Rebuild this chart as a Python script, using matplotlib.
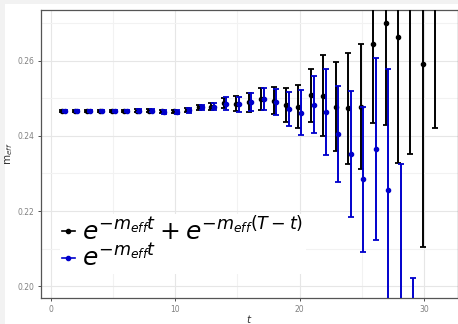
import numpy as np
import matplotlib
matplotlib.use("Agg")
import matplotlib.pyplot as plt
from matplotlib.lines import Line2D
from matplotlib.patches import Rectangle

# ---- data ----
t_black = list(range(1, 32))
black_vals = [0.2467, 0.2467, 0.2467, 0.2467, 0.2467, 0.2467, 0.2467, 0.2467,
              0.2465, 0.2465, 0.2469, 0.2476, 0.2478, 0.2487, 0.2485, 0.2489,
              0.2499, 0.2493, 0.2481, 0.2478, 0.2508, 0.2507, 0.2478, 0.2473,
              0.2478, 0.2643, 0.2700, 0.2662, 0.2760, 0.2592, 0.2900]
black_err = [0.0003, 0.0003, 0.0003, 0.0003, 0.0003, 0.0003, 0.0004, 0.0004,
             0.0005, 0.0005, 0.0006, 0.0007, 0.0009, 0.0013, 0.0020, 0.0025,
             0.0029, 0.0036, 0.0045, 0.0058, 0.0071, 0.0108, 0.0118, 0.0148,
             0.0165, 0.0208, 0.0271, 0.0335, 0.0409, 0.0487, 0.0478]

t_blue = list(range(1, 30))
blue_vals = [0.2467, 0.2467, 0.2467, 0.2467, 0.2467, 0.2467, 0.2467, 0.2467,
             0.2464, 0.2464, 0.2468, 0.2476, 0.2478, 0.2486, 0.2484, 0.2490,
             0.2497, 0.2490, 0.2471, 0.2461, 0.2483, 0.2463, 0.2405, 0.2352,
             0.2285, 0.2365, 0.2256, 0.1900, 0.1500]
blue_err = [0.0003, 0.0003, 0.0003, 0.0003, 0.0003, 0.0003, 0.0004, 0.0004,
            0.0005, 0.0005, 0.0006, 0.0007, 0.0009, 0.0016, 0.0020, 0.0025,
            0.0029, 0.0035, 0.0045, 0.0060, 0.0076, 0.0115, 0.0128, 0.0167,
            0.0193, 0.0242, 0.0323, 0.0425, 0.0522]

label_black = r'$e^{-m_{eff}t} + e^{-m_{eff}(T-t)}$'
label_blue = r'$e^{-m_{eff}t}$'
x_ticks = [0, 10, 20, 30]
y_ticks = [0.20, 0.22, 0.24, 0.26]
y_ticklabels = ["0.20", "0.22", "0.24", "0.26"]

# ---- style ----
dodge_black = -0.09
dodge_blue = 0.12
blue_col = '#0000cc'

fig = plt.figure(figsize=(4.58, 3.24), dpi=100)
fig.patch.set_facecolor('white')
# light gray strips on left and top edge
fig.patches.append(Rectangle((0, 0), 5/458, 1, transform=fig.transFigure,
                             facecolor='#f2f2f2', edgecolor='none', zorder=-10))
fig.patches.append(Rectangle((0, 1 - 4/324), 1, 4/324, transform=fig.transFigure,
                             facecolor='#f2f2f2', edgecolor='none', zorder=-10))

ax = fig.add_axes([41/458, 1 - 298.3/324, (457.5 - 41)/458, (298.3 - 9.5)/324])
ax.set_facecolor('white')

tb = np.array(t_black) + dodge_black
tu = np.array(t_blue) + dodge_blue

ax.errorbar(tb, black_vals, yerr=black_err, fmt='o', color='black',
            markersize=3.0, elinewidth=1.4, capsize=2.4, capthick=1.3, zorder=3)
ax.errorbar(tu, blue_vals, yerr=blue_err, fmt='o', color=blue_col,
            markersize=3.0, elinewidth=1.4, capsize=2.4, capthick=1.3, zorder=4)

ax.set_xlim(-0.8, 32.7)
ax.set_ylim(0.1968, 0.2736)
ax.set_xticks(x_ticks)
ax.set_xticks([5, 15, 25], minor=True)
ax.set_yticks(y_ticks)
ax.set_yticklabels(y_ticklabels)
ax.set_yticks([0.21, 0.23, 0.25, 0.27], minor=True)
ax.grid(which='major', color='#e6e6e6', linewidth=0.8)
ax.grid(which='minor', color='#f2f2f2', linewidth=0.8)
ax.set_axisbelow(True)
ax.tick_params(which='major', length=2.5, width=0.6, color='#333333',
               labelsize=5.5, labelcolor='#808080', pad=2)
ax.tick_params(which='minor', length=0)
for s in ax.spines.values():
    s.set_color('#555555')
    s.set_linewidth(0.9)

ax.set_xlabel(r'$t$', fontsize=7.5, color='#333333', labelpad=-0.5)
ax.set_ylabel(r'$\mathrm{m}_{eff}$', fontsize=7.5, color='#333333', labelpad=2)

handles = [Line2D([0], [0], color='black', marker='o', markersize=3, linewidth=1.2),
           Line2D([0], [0], color=blue_col, marker='o', markersize=3, linewidth=1.2)]
leg = ax.legend(handles, [label_black, label_blue], loc='lower left',
                bbox_to_anchor=(0.045, 0.085), fontsize=18, frameon=True,
                framealpha=1, facecolor='white', edgecolor='none',
                handlelength=0.5, handletextpad=0.3, labelspacing=0.0,
                borderpad=0.1, borderaxespad=0)
leg.set_zorder(10)

fig.savefig('out.png', dpi=100, facecolor=fig.get_facecolor())
